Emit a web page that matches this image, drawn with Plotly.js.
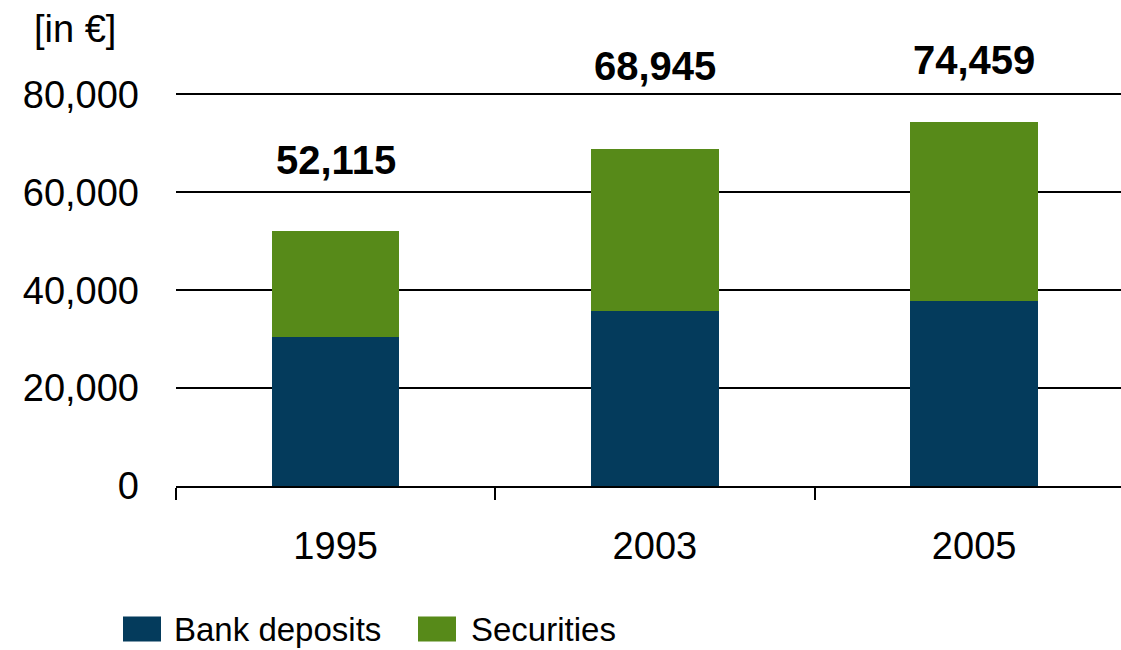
<!DOCTYPE html>
<html>
<head>
<meta charset="utf-8">
<script src="https://cdn.plot.ly/plotly-3.0.1.min.js"></script>
<style>html,body{margin:0;padding:0;background:#fff;}#chart{width:1121px;height:650px;}</style>
</head>
<body>
<div id="chart"></div>
<script>
const years = ["1995", "2003", "2005"];
const seriesNames = ["Bank deposits", "Securities"];
const bankDeposits = [30500, 35800, 37800];
const securities = [21615, 33145, 36659];
const totals = [52115, 68945, 74459];
const totalLabels = ["52,115", "68,945", "74,459"];
const yTickVals = [0, 20000, 40000, 60000, 80000];
const yTickText = ["0", "20,000", "40,000", "60,000", "80,000"];
const unitLabel = "[in €]";

const colors = ["#043b5c", "#578a19"];
const FONT = "Liberation Sans, Arial, sans-serif";

const traces = [
  {type: "bar", name: seriesNames[0], x: years, y: bankDeposits, marker: {color: colors[0]}, width: 0.4, hoverinfo: "skip"},
  {type: "bar", name: seriesNames[1], x: years, y: securities, marker: {color: colors[1]}, width: 0.4, hoverinfo: "skip"}
];

const W = 1121, H = 650, ML = 176, MR = 0, MT = 92.5, MB = 163.7;
const pw = W - ML - MR, ph = H - MT - MB;
const px = x => (x - ML) / pw;
const py = y => (H - MB - y) / ph;

const labelShift = [71, 83, 62];
const annotations = years.map((yr, i) => ({
  x: i, y: totals[i], xref: "x", yref: "y",
  text: "<b>" + totalLabels[i] + "</b>", showarrow: false,
  yanchor: "middle", xanchor: "center", yshift: labelShift[i],
  font: {family: FONT, size: 40, color: "#000"}
}));
annotations.push({
  x: px(32), y: py(28), xref: "paper", yref: "paper", xanchor: "left", yanchor: "middle",
  text: unitLabel, showarrow: false, font: {family: FONT, size: 38, color: "#000"}
});

const legendItems = [
  {x0: 123, x1: 161, tx: 172},
  {x0: 418, x1: 456, tx: 469}
];
const shapes = [];
legendItems.forEach((it, i) => {
  shapes.push({type: "rect", xref: "paper", yref: "paper",
    x0: px(it.x0), x1: px(it.x1), y0: py(642), y1: py(617),
    fillcolor: colors[i], line: {width: 0}});
  annotations.push({x: px(it.tx), y: py(630), xref: "paper", yref: "paper",
    xanchor: "left", yanchor: "middle", text: seriesNames[i], showarrow: false,
    font: {family: FONT, size: 33, color: "#000"}});
});

const layout = {
  width: W, height: H,
  margin: {l: ML, r: MR, t: MT, b: MB, pad: 0},
  paper_bgcolor: "#fff", plot_bgcolor: "#fff",
  barmode: "stack",
  showlegend: false,
  font: {family: FONT, color: "#000"},
  xaxis: {
    type: "category", range: [-0.5, 2.46],
    showgrid: false, zeroline: false,
    showline: true, linecolor: "#000", linewidth: 2,
    ticks: "outside", tickson: "boundaries", ticklen: 12, tickwidth: 2, tickcolor: "#000",
    ticklabelstandoff: 25,
    tickfont: {family: FONT, size: 38, color: "#000"}
  },
  yaxis: {
    range: [0, 80300], tickvals: yTickVals, ticktext: yTickText,
    showgrid: true, gridcolor: "#000", gridwidth: 2,
    zeroline: false, showline: false, ticks: "",
    ticklabelstandoff: 36,
    tickfont: {family: FONT, size: 38, color: "#000"}
  },
  annotations: annotations,
  shapes: shapes
};

Plotly.newPlot("chart", traces, layout, {displayModeBar: false, staticPlot: true});
</script>
</body>
</html>
